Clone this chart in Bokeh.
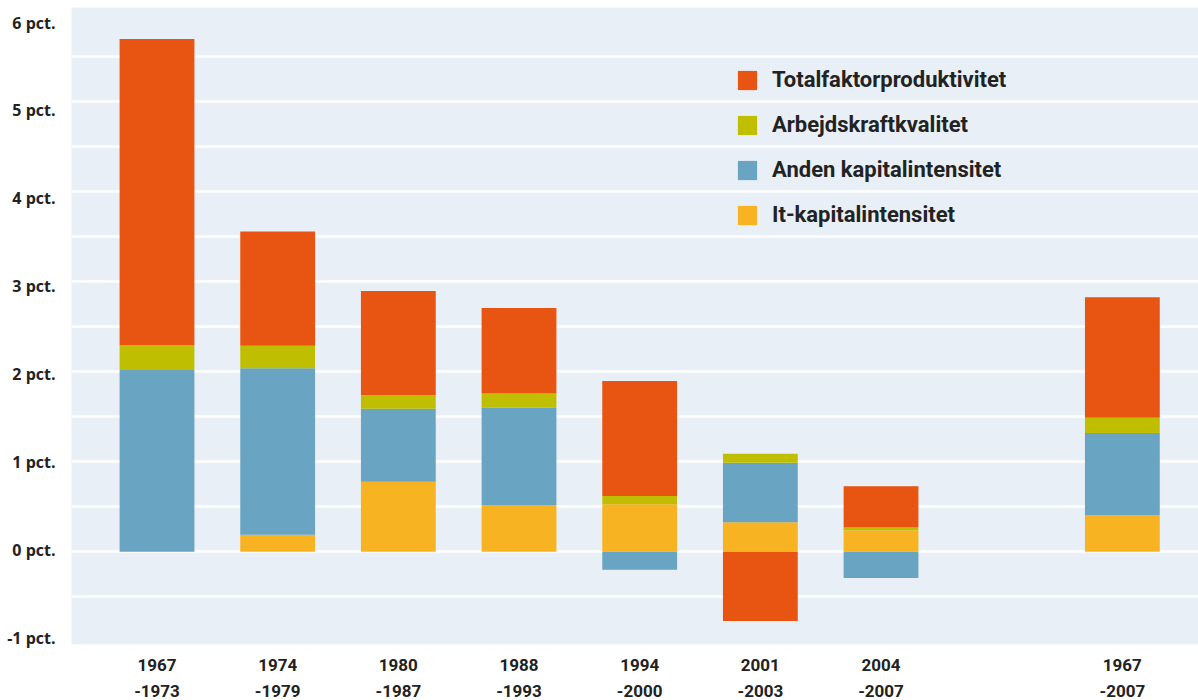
from bokeh.plotting import figure
from bokeh.models import FixedTicker, Legend, LegendItem, ColumnDataSource, Range1d
from bokeh.embed import file_html
from bokeh.resources import INLINE

# ---- data (percentage points) ----
periods = ["1967-1973", "1974-1979", "1980-1987", "1988-1993",
           "1994-2000", "2001-2003", "2004-2007"]
total_period = "1967-2007"

it_kapital = [0.00, 0.19, 0.78, 0.52, 0.53, 0.33, 0.24, 0.41]
anden_kapital = [2.02, 1.85, 0.81, 1.08, -0.20, 0.66, -0.29, 0.91]
arbejdskraft = [0.28, 0.25, 0.15, 0.16, 0.09, 0.10, 0.03, 0.17]
tfp = [3.40, 1.27, 1.16, 0.95, 1.28, -0.77, 0.46, 1.34]

y_ticks = [-1, 0, 1, 2, 3, 4, 5, 6]
grid_ticks = [-0.5, 0, 0.5, 1, 1.5, 2, 2.5, 3, 3.5, 4, 4.5, 5, 5.5]

series = [  # bottom -> top stacking order
    ("It-kapitalintensitet", it_kapital, "#F7B322"),
    ("Anden kapitalintensitet", anden_kapital, "#6AA4C3"),
    ("Arbejdskraftkvalitet", arbejdskraft, "#BFBE00"),
    ("Totalfaktorproduktivitet", tfp, "#E85412"),
]

all_periods = periods + [total_period]
xs = list(range(len(periods))) + [len(periods) + 1]   # gap before total
labels = {x: p.replace("-", "\n-") for x, p in zip(xs, all_periods)}

p = figure(frame_width=1127, frame_height=637, output_backend="svg", toolbar_location=None,
           x_range=(-0.7086, 8.631), y_range=(-1.03, 6.05),
           min_border_left=71, min_border_right=0, min_border_top=7, min_border_bottom=0)

# the original's tick labels sit on a slightly compressed scale
p.extra_y_ranges = {"labels": Range1d(-1.079, 6.171)}

p.background_fill_color = "#E8EFF6"
p.border_fill_color = "white"
p.outline_line_color = None

pos = [0.0] * len(xs)
neg = [0.0] * len(xs)
renderers = {}
for name, vals, col in series:
    bottoms, tops = [], []
    for i, v in enumerate(vals):
        if v >= 0:
            bottoms.append(pos[i]); tops.append(pos[i] + v); pos[i] += v
        else:
            tops.append(neg[i]); bottoms.append(neg[i] + v); neg[i] += v
    src = ColumnDataSource(dict(x=xs, bottom=bottoms, top=tops))
    r = p.vbar(x="x", bottom="bottom", top="top", width=0.62, source=src,
               fill_color=col, line_color=None)
    renderers[name] = r

# grid
p.xgrid.visible = False
p.ygrid.ticker = FixedTicker(ticks=grid_ticks)
p.ygrid.grid_line_color = "white"
p.ygrid.grid_line_width = 2.5

# y axis
ya = p.yaxis[0]
ya.y_range_name = "labels"
ya.ticker = FixedTicker(ticks=y_ticks)
ya.major_label_overrides = {t: f"{t} pct." for t in y_ticks}
ya.axis_line_color = None
ya.major_tick_line_color = None
ya.minor_tick_line_color = None
ya.major_tick_out = 0
ya.major_tick_in = 0
ya.minor_tick_out = 0
ya.major_label_standoff = 16
ya.major_label_text_font = "Open Sans"
ya.major_label_text_font_style = "bold"
ya.major_label_text_font_size = "16px"
ya.major_label_text_color = "#222222"

# x axis
p.xaxis.ticker = FixedTicker(ticks=xs)
p.xaxis.major_label_overrides = labels
p.xaxis.axis_line_color = None
p.xaxis.major_tick_line_color = None
p.xaxis.minor_tick_line_color = None
p.xaxis.major_tick_out = 0
p.xaxis.major_tick_in = 0
p.xaxis.minor_tick_out = 0
p.xaxis.major_label_standoff = 10
p.xaxis.major_label_text_font = "Roboto"
p.xaxis.major_label_text_font_style = "bold"
p.xaxis.major_label_text_font_size = "17px"
p.xaxis.major_label_text_line_height = 1.3
p.xaxis.major_label_text_color = "#222222"

# legend
order = ["Totalfaktorproduktivitet", "Arbejdskraftkvalitet",
         "Anden kapitalintensitet", "It-kapitalintensitet"]
legend = Legend(items=[LegendItem(label=n, renderers=[renderers[n]]) for n in order],
                location=(664, 417), glyph_width=24, glyph_height=24,
                label_standoff=13, spacing=20, padding=0, margin=0,
                label_height=24, border_line_color=None, background_fill_alpha=0,
                label_text_font="Roboto", label_text_font_style="bold",
                label_text_font_size="22px", label_text_color="#222222")
p.add_layout(legend)

open("out.html", "w").write(file_html(p, INLINE))
